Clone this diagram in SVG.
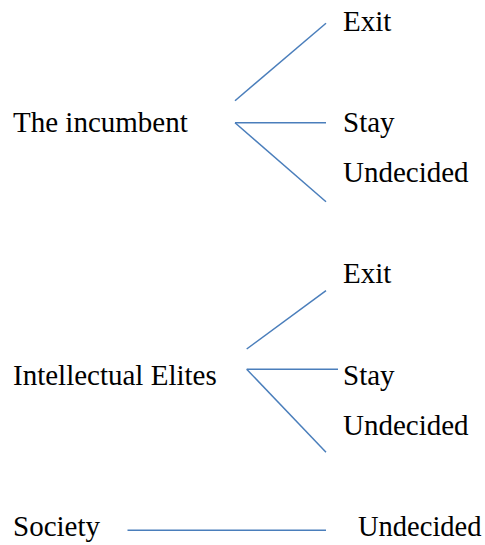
<svg xmlns="http://www.w3.org/2000/svg" width="485" height="545" viewBox="0 0 485 545">
<style>
.t{font-family:'Liberation Serif','Times New Roman',Tinos,'DejaVu Serif',serif;font-size:29px;fill:#000}
.c line{stroke:#4a7ebb;stroke-width:1.5;fill:none}
</style>
<rect width="485" height="545" fill="#fff"/>
<g id="incumbent"><text class="t" x="13" y="132">The incumbent</text></g>
<g id="exit1"><text class="t" x="343" y="31">Exit</text></g>
<g id="stay1"><text class="t" x="343" y="132">Stay</text></g>
<g id="undecided1"><text class="t" x="343" y="181.5">Undecided</text></g>
<g id="elites"><text class="t" x="13" y="385">Intellectual Elites</text></g>
<g id="exit2"><text class="t" x="343" y="282.5">Exit</text></g>
<g id="stay2"><text class="t" x="343" y="385">Stay</text></g>
<g id="undecided2"><text class="t" x="343" y="434.5">Undecided</text></g>
<g id="society"><text class="t" x="13" y="536">Society</text></g>
<g id="undecided3"><text class="t" x="358" y="536" style="font-size:28.5px">Undecided</text></g>
<g class="c" id="connectors">
<line x1="235" y1="100.7" x2="326" y2="23.3"/>
<line x1="235" y1="122.7" x2="326" y2="122.7"/>
<line x1="235" y1="122.7" x2="326" y2="201.7"/>
<line x1="246.7" y1="349" x2="326" y2="290.7"/>
<line x1="246.7" y1="369.3" x2="338" y2="369.3"/>
<line x1="246.7" y1="369.3" x2="326" y2="452.3"/>
<line x1="127.5" y1="530.3" x2="326" y2="530.3"/>
</g>
</svg>
